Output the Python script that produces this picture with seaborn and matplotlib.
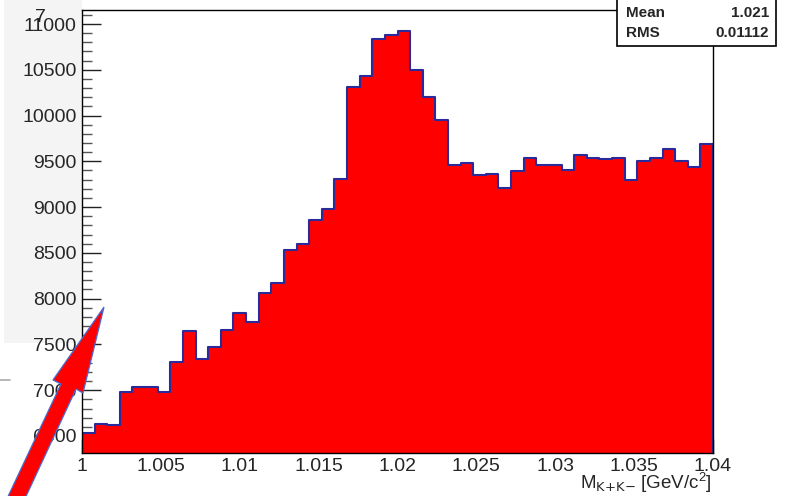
import numpy as np
import pandas as pd
import matplotlib
matplotlib.use("Agg")
import matplotlib.pyplot as plt
from matplotlib.patches import Rectangle, Polygon
from matplotlib.ticker import MultipleLocator
import seaborn as sns

# ---- data ----
bin_low, bin_high, n_bins = 1.0, 1.04, 50
counts = [6530, 6634, 6620, 6977, 7035, 7035, 6977, 7305, 7646, 7337,
          7471, 7657, 7839, 7748, 8066, 8167, 8530, 8596, 8855, 8982,
          9303, 10307, 10434, 10841, 10881, 10921, 10499, 10198, 9953, 9458,
          9477, 9346, 9360, 9211, 9393, 9531, 9458, 9458, 9404, 9564,
          9531, 9524, 9535, 9291, 9502, 9538, 9637, 9502, 9437, 9685]
stat_labels = ["Mean", "RMS"]
stat_values = ["1.021", "0.01112"]
x_label = r"M$_{\mathrm{K{+}K{-}}}$ [GeV/c$^{2}$]"

sns.set_theme(style="ticks")
plt.rcParams["font.family"] = ["Liberation Sans", "DejaVu Sans"]
plt.rcParams["mathtext.default"] = "regular"

W, H = 787, 496
fig = plt.figure(figsize=(W / 100, H / 100), dpi=100)
fig.patch.set_facecolor("white")

def fx(px):
    return px / W

def fy(py):
    return 1 - py / H

# light grey screenshot region on the left (behind everything)
bg = fig.add_axes([fx(4), fy(343), fx(78), 343 / H], zorder=-5)
bg.set_facecolor("#f4f4f4")
bg.set_axis_off()
bg.add_patch(Rectangle((0, 0), 1, 1, transform=bg.transAxes,
                       facecolor="#f4f4f4", edgecolor="none"))
fig.add_artist(plt.Line2D([fx(0), fx(10)], [fy(380), fy(380)],
                          transform=fig.transFigure, color="#aaaaaa", lw=1.2))

ax = fig.add_axes([fx(82), fy(453), fx(713) - fx(82), (453 - 10) / H], zorder=1)
ax.set_facecolor("white")

edges = np.linspace(bin_low, bin_high, n_bins + 1)
centers = 0.5 * (edges[:-1] + edges[1:])
df = pd.DataFrame({"mass": centers, "count": counts})
sns.histplot(data=df, x="mass", weights="count", bins=n_bins,
             binrange=(bin_low, bin_high), element="step", fill=True,
             facecolor="#ff0000", edgecolor="#2a2a9a", linewidth=1.5, alpha=1,
             ax=ax)

ax.set_xlim(bin_low, bin_high)
ax.set_ylim(6314, 11153)
ax.set_xlabel("")
ax.set_ylabel("")

ax.xaxis.set_major_locator(MultipleLocator(0.005))
ax.xaxis.set_minor_locator(MultipleLocator(0.001))
ax.yaxis.set_major_locator(MultipleLocator(500))
ax.yaxis.set_minor_locator(MultipleLocator(100))
ax.xaxis.set_major_formatter(matplotlib.ticker.FuncFormatter(
    lambda v, p: ("%g" % round(v, 4))))

ax.tick_params(axis="y", which="major", direction="in", length=14, width=1,
               color="#222222", labelsize=14, pad=4)
ax.tick_params(axis="y", which="minor", direction="in", length=7, width=1,
               color="#555555")
ax.tick_params(axis="x", which="major", direction="in", length=10, width=1,
               color="#222222", labelsize=14, pad=3.5)
ax.tick_params(axis="x", which="minor", direction="in", length=5, width=1,
               color="#333333")
for s in ax.spines.values():
    s.set_visible(True)
    s.set_color("black")
    s.set_linewidth(1.0)

# odd glyph at top-left of y axis
fig.text(fx(40), fy(17), "7", fontsize=14, ha="center", va="center",
         color="#222222", zorder=3)

# x-axis title
fig.text(fx(712), fy(489), x_label, fontsize=13.5, ha="right", va="baseline",
         zorder=3)

# stats box (cut off at the top)
fig.patches.append(Rectangle((fx(617), fy(46)), fx(776) - fx(617), 60 / H,
                             transform=fig.transFigure, facecolor="white",
                             edgecolor="black", lw=1.2, zorder=5))
for i, (lab, val) in enumerate(zip(stat_labels, stat_values)):
    yc = 13 + 20 * i
    fig.text(fx(626), fy(yc), lab, fontsize=11, fontweight="bold",
             ha="left", va="center", zorder=6)
    fig.text(fx(769), fy(yc), val, fontsize=11, fontweight="bold",
             ha="right", va="center", zorder=6)

# red arrow annotation
arrow_px = [(104, 307), (83, 393), (76, 389), (22, 505), (4, 505),
            (61, 384), (53, 380)]
arrow = Polygon([(fx(x), fy(y)) for x, y in arrow_px], closed=True,
                transform=fig.transFigure, facecolor="#ff0000",
                edgecolor="#4a6ad0", lw=0.9, zorder=10, clip_on=False)
fig.patches.append(arrow)

fig.savefig("out.png", dpi=100)
